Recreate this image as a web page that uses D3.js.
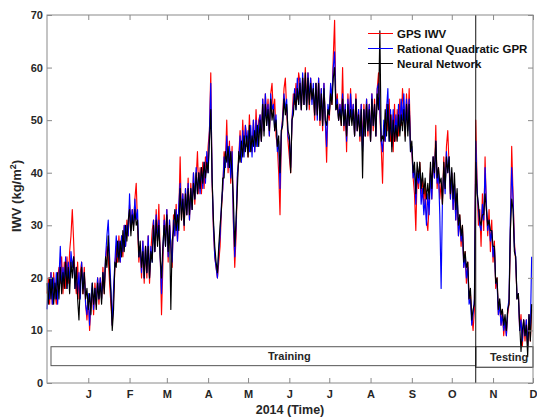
<!DOCTYPE html>
<html>
<head>
<meta charset="utf-8">
<script src="https://cdn.jsdelivr.net/npm/d3@7"></script>
<style>
  html, body { margin: 0; padding: 0; background: #fff; }
  svg { display: block; font-family: "Liberation Sans", Arial, sans-serif; }
</style>
</head>
<body>
<svg id="chart" width="537" height="418"></svg>
<script>
// ---------- data (daily values starting 2013-12-01) ----------
const startDate = "2013-12-01";
const endDate = "2014-12-01";
const splitDate = "2014-10-19";
const monthTickDates = ["2014-01-01","2014-02-01","2014-03-01","2014-04-01","2014-05-01","2014-06-01",
                        "2014-07-01","2014-08-01","2014-09-01","2014-10-01","2014-11-01","2014-12-01"];
const monthLabels = ["J","F","M","A","M","J","J","A","S","O","N","D"];
const yTicks = [0, 10, 20, 30, 40, 50, 60, 70];
const seriesNames = ["GPS IWV", "Rational Quadratic GPR", "Neural Network"];
const seriesColors = ["#ff0000", "#0000ff", "#000000"];

const gpsIWV = [
 17,20,15,21,15,21,17,15,20,22,
 19,24,17,23,18,24,19,25,28,33,
 27,20,17,23,16,21,23,17,22,15,
 12,16,10,15,18,13,19,15,20,15,
 20,16,22,17,23,26,24,19,15,11,
 16,22,26,23,28,23,28,24,30,26,
 31,28,34,29,33,30,35,38,30,23,
 26,20,27,19,26,20,28,19,25,29,
 31,25,33,27,34,25,13,22,32,27,
 33,23,31,26,22,32,28,34,27,32,
 43,31,36,29,37,32,39,31,38,33,
 40,34,39,44,36,41,36,42,37,43,
 40,45,48,59,38,29,24,22,20,23,
 26,33,37,44,42,50,40,46,38,45,
 30,22,28,39,43,48,42,50,44,49,
 47,43,51,45,44,50,44,52,46,50,
 51,46,54,48,55,50,54,47,55,57,
 51,54,47,45,40,32,47,51,56,58,
 52,46,43,40,50,55,53,57,54,59,
 57,52,58,53,60,53,59,52,58,54,
 56,50,57,51,58,49,56,48,57,50,
 42,52,50,56,53,62,69,52,55,50,
 53,49,60,48,53,44,55,49,56,50,
 53,47,55,48,52,46,53,45,53,47,
 54,47,53,46,55,48,54,47,56,59,
 51,45,38,49,46,53,48,54,46,51,
 44,53,46,52,47,54,49,56,52,47,
 55,49,56,46,44,39,36,29,40,37,
 42,36,39,34,38,31,29,34,41,35,
 43,39,49,37,41,35,38,34,43,37,
 45,48,41,35,40,33,38,31,36,28,
 32,26,30,22,25,19,23,16,17,13,
 10,14,50,38,30,33,26,36,29,43,
 33,28,33,25,31,23,27,18,20,13,
 15,11,14,9,12,9,13,15,28,45,
 36,27,23,16,17,10,13,7,12,8,
 12,7,13,8,14
];

const gprIWV = [
 14,19,16,21,15,20,16,21,15,20,
 26,18,22,19,24,18,23,19,25,22,
 24,18,22,17,21,16,23,18,21,15,
 13,17,11,16,19,14,18,15,20,16,
 20,16,21,18,24,28,31,24,18,11,
 18,23,28,24,27,23,28,25,30,26,
 30,28,36,29,33,30,35,31,33,24,
 26,21,27,20,26,21,28,20,26,23,
 31,25,32,27,31,24,17,25,31,26,
 33,24,31,26,23,31,28,33,27,34,
 38,32,36,30,37,32,38,31,37,33,
 40,35,41,36,40,36,41,37,42,38,
 44,40,48,57,39,30,24,22,20,25,
 28,34,37,43,41,47,41,45,39,44,
 31,24,30,40,42,47,42,48,43,49,
 45,48,44,49,43,50,44,50,45,49,
 51,46,54,48,55,49,53,47,55,52,
 53,48,51,44,46,37,48,50,55,52,
 54,47,46,41,50,53,56,52,58,53,
 58,52,59,53,58,52,59,54,58,53,
 57,51,57,50,58,50,56,49,57,50,
 45,53,51,57,54,60,63,52,54,50,
 53,50,55,49,53,46,54,49,55,50,
 53,47,54,48,52,47,53,44,52,47,
 54,48,53,46,55,49,53,47,56,57,
 52,46,44,50,46,52,56,46,52,45,
 52,46,51,47,53,48,54,50,55,48,
 54,48,54,44,45,39,41,34,40,38,
 40,34,37,32,35,30,36,32,40,35,
 43,39,46,38,40,32,18,35,41,36,
 44,40,43,35,40,33,38,31,36,28,
 31,27,29,22,24,20,22,15,16,11,
 13,16,46,37,33,30,29,34,31,41,
 34,29,31,27,29,24,26,19,19,13,
 15,11,13,10,12,9,14,16,31,41,
 35,26,24,16,17,10,12,8,12,9,
 12,7,13,10,24
];

const nnIWV = [
 19,15,20,16,20,15,19,16,21,16,
 22,17,21,18,23,18,22,17,23,20,
 24,18,22,16,12,19,22,17,21,16,
 18,14,17,13,19,15,18,14,19,16,
 19,15,21,17,24,22,28,21,17,10,
 14,23,22,27,23,27,24,29,25,30,
 27,31,33,28,32,29,33,30,31,24,
 27,22,25,20,26,21,26,20,25,23,
 30,25,31,26,30,24,20,26,30,26,
 32,25,30,14,27,29,33,29,32,29,
 37,31,35,30,36,32,37,32,37,33,
 38,35,40,36,40,37,41,38,42,39,
 42,40,46,52,39,31,26,23,21,26,
 30,33,39,39,44,42,45,41,44,40,
 35,26,31,37,44,42,46,43,47,44,
 47,43,49,44,47,45,48,45,49,45,
 50,46,53,47,53,49,52,48,54,50,
 52,48,50,45,47,40,48,49,54,51,
 53,48,47,40,50,51,55,52,56,53,
 57,52,58,53,59,52,58,53,57,54,
 56,51,57,51,57,50,55,49,56,50,
 49,52,51,55,53,58,60,52,53,50,
 52,49,54,49,52,47,53,49,52,49,
 52,47,54,48,51,47,52,39,52,47,
 53,48,52,46,54,49,53,47,55,52,
 67,46,47,46,52,47,53,46,51,44,
 50,46,49,46,51,47,51,48,52,46,
 53,47,53,44,46,40,42,36,42,39,
 42,37,40,36,39,35,38,35,42,37,
 43,40,46,39,41,38,39,34,42,37,
 43,40,43,36,41,35,40,33,37,30,
 32,28,30,23,25,22,23,16,18,12,
 14,15,42,36,34,31,30,32,32,36,
 33,30,31,29,29,26,26,19,20,14,
 16,13,14,11,13,10,14,15,29,35,
 33,25,24,16,17,11,6,10,12,9,
 11,5,13,8,15
];

// annotation boxes: [yLow, yHigh] in data units
const trainingBox = { start: "2013-12-04", end: splitDate, y0: 3.3, y1: 6.9, label: "Training", labelDate: "2014-06-01" };
const testingBox  = { start: splitDate, end: endDate, y0: 3.0, y1: 6.9, label: "Testing", labelDate: "2014-11-13" };

// ---------- layout ----------
const W = 537, H = 418;
const M = { left: 47, right: 4, top: 15, bottom: 35 };
const svg = d3.select("#chart");
const parse = d3.utcParse("%Y-%m-%d");
const t0 = parse(startDate);

const x = d3.scaleUtc().domain([t0, parse(endDate)]).range([M.left, W - M.right]);
const y = d3.scaleLinear().domain([0, 70]).range([H - M.bottom, M.top]);

const textColor = "#262626";
const frameColor = "#8a8a8a";

// data lines
const allSeries = [gpsIWV, gprIWV, nnIWV];
const line = d3.line()
  .x((d, i) => x(d3.utcDay.offset(t0, i)))
  .y(d => y(d));

const plotG = svg.append("g");
allSeries.forEach((s, k) => {
  plotG.append("path")
    .datum(s)
    .attr("fill", "none")
    .attr("stroke", seriesColors[k])
    .attr("stroke-width", 1.15)
    .attr("stroke-linejoin", "round")
    .attr("d", line);
});

// boxes
[trainingBox, testingBox].forEach((b, k) => {
  const x0 = x(parse(b.start)), x1 = x(parse(b.end));
  svg.append("rect")
    .attr("x", x0).attr("y", y(b.y1))
    .attr("width", x1 - x0).attr("height", y(b.y0) - y(b.y1))
    .attr("fill", "none")
    .attr("stroke", k === 0 ? "#555" : "#222")
    .attr("stroke-width", 1);
  svg.append("text")
    .attr("x", x(parse(b.labelDate)))
    .attr("y", y((b.y0 + b.y1) / 2))
    .attr("dy", "0.35em")
    .attr("text-anchor", "middle")
    .attr("font-size", 11)
    .attr("font-weight", "bold")
    .attr("fill", textColor)
    .text(b.label);
});

// split line
svg.append("line")
  .attr("x1", x(parse(splitDate))).attr("x2", x(parse(splitDate)))
  .attr("y1", y(70)).attr("y2", y(0))
  .attr("stroke", "#111").attr("stroke-width", 1);

// frame
svg.append("rect")
  .attr("x", M.left).attr("y", M.top)
  .attr("width", W - M.right - M.left).attr("height", H - M.bottom - M.top)
  .attr("fill", "none").attr("stroke", frameColor).attr("stroke-width", 1);

// axes
const tickDates = monthTickDates.map(parse);
function styleAxis(g, showLabels) {
  g.select(".domain").remove();
  g.selectAll(".tick line").attr("stroke", frameColor);
  g.selectAll(".tick text")
    .attr("fill", textColor)
    .attr("font-size", 11)
    .attr("font-weight", "bold")
    .attr("font-family", "Liberation Sans, Arial, sans-serif");
  if (!showLabels) g.selectAll(".tick text").remove();
}
svg.append("g").attr("transform", `translate(0,${y(0)})`)
  .call(d3.axisBottom(x).tickValues(tickDates).tickSize(-5).tickPadding(7)
    .tickFormat((d, i) => monthLabels[i]))
  .call(g => styleAxis(g, true));
svg.append("g").attr("transform", `translate(0,${y(70)})`)
  .call(d3.axisTop(x).tickValues(tickDates).tickSize(-5))
  .call(g => styleAxis(g, false));
svg.append("g").attr("transform", `translate(${M.left},0)`)
  .call(d3.axisLeft(y).tickValues(yTicks).tickSize(-5).tickPadding(4))
  .call(g => styleAxis(g, true));
svg.append("g").attr("transform", `translate(${W - M.right},0)`)
  .call(d3.axisRight(y).tickValues(yTicks).tickSize(-5))
  .call(g => styleAxis(g, false));

// axis titles
svg.append("text")
  .attr("x", (M.left + W - M.right) / 2).attr("y", 410)
  .attr("dy", "0.35em")
  .attr("text-anchor", "middle").attr("font-size", 12.5).attr("font-weight", "bold")
  .attr("fill", textColor).text("2014 (Time)");

const yl = svg.append("text")
  .attr("transform", `translate(16,${(M.top + H - M.bottom) / 2 - 3}) rotate(-90)`)
  .attr("dy", "0.35em")
  .attr("text-anchor", "middle").attr("font-size", 13).attr("font-weight", "bold")
  .attr("fill", textColor);
yl.append("tspan").text("IWV (kg/m");
yl.append("tspan").attr("font-size", 9).attr("baseline-shift", "super").text("2");
yl.append("tspan").text(")");

// legend
const legG = svg.append("g");
seriesNames.forEach((name, k) => {
  const ly = 33.5 + k * 15;
  legG.append("line")
    .attr("x1", 368).attr("x2", 393).attr("y1", ly).attr("y2", ly)
    .attr("stroke", seriesColors[k]).attr("stroke-width", 1);
  legG.append("text")
    .attr("x", 397).attr("y", ly).attr("dy", "0.35em")
    .attr("font-size", 11.5).attr("font-weight", "bold")
    .attr("fill", "#111").text(name);
});
</script>
</body>
</html>
